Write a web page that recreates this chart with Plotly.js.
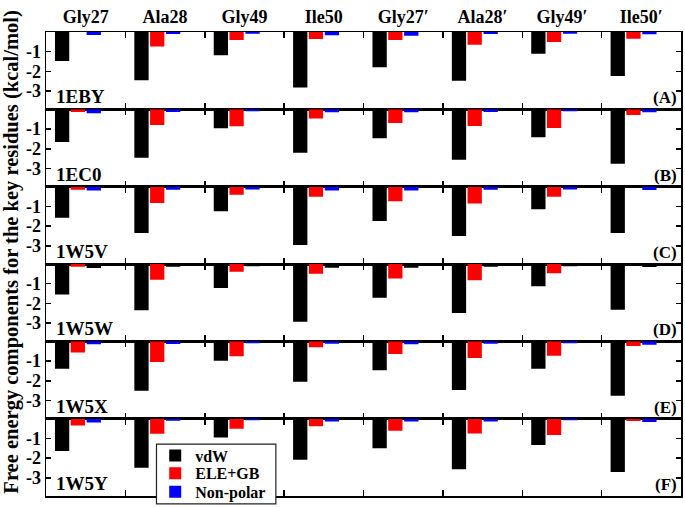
<!DOCTYPE html>
<html>
<head>
<meta charset="utf-8">
<script src="https://cdn.plot.ly/plotly-3.0.1.min.js"></script>
<style>body{margin:0;background:white}</style>
</head>
<body>
<div id="myPlot" style="width:685px;height:507px"></div>
<script>
// residues along x and one panel per complex
var residues = ["Gly27", "Ala28", "Gly49", "Ile50", "Gly27′", "Ala28′", "Gly49′", "Ile50′"];
var systems = ["1EBY", "1EC0", "1W5V", "1W5W", "1W5X", "1W5Y"];
var panelTags = ["(A)", "(B)", "(C)", "(D)", "(E)", "(F)"];

// energy terms (kcal/mol), one row per complex
var vdw = [
  [-1.47, -2.44, -1.18, -2.81, -1.79, -2.47, -1.10, -2.23],
  [-1.66, -2.45, -0.96, -2.20, -1.47, -2.55, -1.42, -2.76],
  [-1.57, -2.35, -1.25, -2.96, -1.74, -2.50, -1.15, -2.35],
  [-1.54, -2.34, -1.22, -2.93, -1.71, -2.49, -1.13, -2.32],
  [-1.39, -2.50, -0.98, -2.05, -1.47, -2.47, -1.39, -2.76],
  [-1.64, -2.49, -0.96, -2.08, -1.50, -2.57, -1.33, -2.70]
];
var eleGB = [
  [0, -0.73, -0.41, -0.36, -0.41, -0.64, -0.51, -0.34],
  [-0.14, -0.80, -0.86, -0.47, -0.69, -0.85, -0.95, -0.29],
  [-0.15, -0.83, -0.41, -0.51, -0.74, -0.85, -0.51, 0],
  [-0.14, -0.80, -0.39, -0.49, -0.73, -0.83, -0.47, 0],
  [-0.57, -1.05, -0.76, -0.30, -0.64, -0.84, -0.73, -0.24],
  [-0.34, -0.76, -0.51, -0.39, -0.61, -0.75, -0.83, -0.12]
];
var nonPolar = [
  [-0.15, -0.10, -0.09, -0.17, -0.19, -0.10, -0.09, -0.12],
  [-0.20, -0.14, -0.10, -0.15, -0.15, -0.14, -0.10, -0.15],
  [-0.20, -0.15, -0.14, -0.20, -0.20, -0.15, -0.14, -0.17],
  [-0.20, -0.14, -0.12, -0.19, -0.19, -0.14, -0.12, -0.15],
  [-0.15, -0.13, -0.10, -0.12, -0.15, -0.12, -0.10, -0.17],
  [-0.20, -0.10, -0.08, -0.14, -0.14, -0.14, -0.08, -0.17]
];
// the 1W5W panel has its non-polar bars drawn in black in the original
var npColors = ["blue", "blue", "blue", "black", "blue", "blue"];

var fontFam = "Liberation Serif";
var legFont = {family: fontFam, size: 16, color: "black", weight: "bold"};
var data = [];
var layout = {
  width: 685,
  height: 507,
  margin: {l: 46, r: 4, t: 32, b: 11, autoexpand: false},
  barmode: "overlay",
  plot_bgcolor: "white",
  paper_bgcolor: "white",
  font: {family: fontFam, size: 17, color: "black", weight: "bold"},
  showlegend: true,
  // one legend per entry so the rows sit as tight as in the original
  legend: {x: 0.172, y: 0.087, xanchor: "left", yanchor: "middle", bgcolor: "rgba(0,0,0,0)", font: legFont},
  legend2: {x: 0.172, y: 0.049, xanchor: "left", yanchor: "middle", bgcolor: "rgba(0,0,0,0)", font: legFont},
  legend3: {x: 0.172, y: 0.009, xanchor: "left", yanchor: "middle", bgcolor: "rgba(0,0,0,0)", font: legFont},
  // legend frame
  shapes: [{type: "rect", xref: "paper", yref: "paper", x0: 0.174, x1: 0.362, y0: -0.017, y1: 0.112,
    fillcolor: "white", line: {color: "#222", width: 1.2}, layer: "above"}],
  annotations: []
};

var n = systems.length;
for (var p = 0; p < n; p++) {
  var ax = p == 0 ? "" : String(p + 1);
  data.push({type: "bar", x: residues, y: vdw[p], name: "vdW",
    marker: {color: "black", line: {width: 0}}, offset: -0.387, width: 0.18,
    xaxis: "x" + ax, yaxis: "y" + ax, showlegend: p == 0, legend: "legend"});
  data.push({type: "bar", x: residues, y: eleGB[p], name: "ELE+GB",
    marker: {color: "red", line: {width: 0}}, offset: -0.189, width: 0.18,
    xaxis: "x" + ax, yaxis: "y" + ax, showlegend: p == 0, legend: "legend2"});
  data.push({type: "bar", x: residues, y: nonPolar[p], name: "Non-polar",
    marker: {color: npColors[p], line: {width: 0}}, offset: 0.012, width: 0.18,
    xaxis: "x" + ax, yaxis: "y" + ax, showlegend: p == 0, legend: "legend3"});

  var yTop = 1 - p / n;
  var yBot = 1 - (p + 1) / n;
  layout["xaxis" + ax] = {
    type: "category", range: [-0.5, 7.5], anchor: "y" + ax,
    side: p == 0 ? "top" : "bottom",
    showticklabels: p == 0, tickfont: {size: 18},
    ticks: "inside", tickson: "boundaries", ticklen: 6, tickwidth: 1.5, tickcolor: "black",
    showline: true, mirror: "ticks", linecolor: "black", linewidth: 1.5,
    showgrid: false, zeroline: false, fixedrange: true
  };
  layout["yaxis" + ax] = {
    domain: [yBot, yTop], anchor: "x" + ax, range: [-3.92, 0],
    tickvals: [-1, -2, -3], ticktext: ["-1", "-2", "-3"], tickfont: {size: 18},
    ticks: "inside", ticklen: 5, tickwidth: 1.5, tickcolor: "black",
    showline: true, mirror: "ticks", linecolor: "black", linewidth: 1.5,
    showgrid: false, zeroline: false, fixedrange: true
  };

  layout.annotations.push({text: systems[p], xref: "x" + ax + " domain", yref: "y" + ax + " domain",
    x: 0.012, y: 0.0, xanchor: "left", yanchor: "bottom", showarrow: false,
    font: {size: 19}});
  layout.annotations.push({text: panelTags[p], xref: "x" + ax + " domain", yref: "y" + ax + " domain",
    x: 0.997, y: 0.0, xanchor: "right", yanchor: "bottom", showarrow: false,
    font: {size: 17}});
}

// y title shared by all panels
layout.annotations.push({
  text: "Free energy components for the key residues (kcal/mol)",
  xref: "paper", yref: "paper", x: -0.054, y: 0.526,
  xanchor: "center", yanchor: "middle", textangle: -90, showarrow: false,
  font: {size: 20.5}
});

Plotly.newPlot("myPlot", data, layout, {staticPlot: true});
</script>
</body>
</html>
